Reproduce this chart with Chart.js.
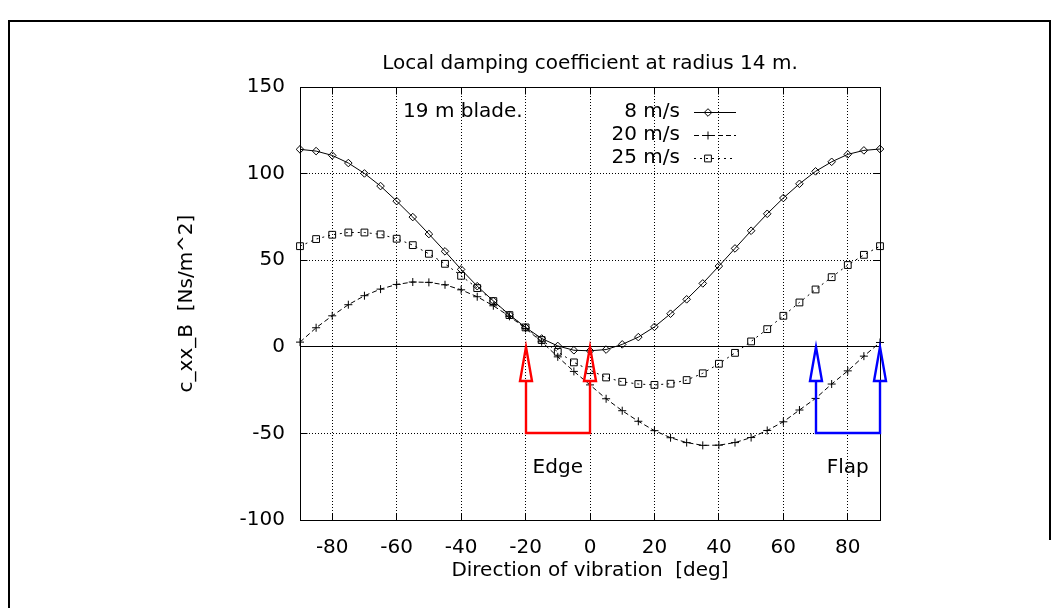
<!DOCTYPE html>
<html>
<head>
<meta charset="utf-8">
<script src="https://cdn.jsdelivr.net/npm/chart.js@4.4.0/dist/chart.umd.min.js"></script>
<style>
  html, body { margin: 0; padding: 0; background: #ffffff; }
  canvas { display: block; }
</style>
</head>
<body>
<canvas id="chart" width="1058" height="608" style="width:1058px;height:608px"></canvas>
<script>
// ---------- data ----------
const angles = [-90,-85,-80,-75,-70,-65,-60,-55,-50,-45,-40,-35,-30,-25,-20,-15,-10,-5,0,5,10,15,20,25,30,35,40,45,50,55,60,65,70,75,80,85,90];
const damping8 = [114.0,113.0,110.5,106.1,100.1,92.8,84.1,74.9,65.1,55.1,44.7,35.0,26.5,18.5,11.2,4.8,0.5,-2.0,-2.3,-1.6,1.4,5.6,11.5,19.1,27.4,36.6,46.6,56.8,67.0,76.8,85.9,94.1,101.3,106.8,111.1,113.4,114.2];
const damping20 = [2.7,11.0,17.9,24.3,29.5,33.3,36.0,37.4,37.2,35.8,32.9,28.9,23.7,17.6,10.6,2.9,-5.8,-14.2,-22.0,-30.0,-36.9,-43.0,-48.4,-52.5,-55.3,-56.9,-56.8,-55.3,-52.4,-48.3,-43.3,-36.5,-29.8,-21.5,-13.9,-5.4,2.5];
const damping25 = [58.1,62.2,64.7,66.0,66.0,64.9,62.4,58.7,53.7,47.9,41.0,33.9,26.4,18.3,11.2,3.9,-2.9,-9.0,-13.5,-17.7,-20.2,-21.5,-22.0,-21.3,-19.2,-15.3,-9.8,-3.5,3.1,10.2,17.9,25.6,33.1,40.2,47.2,53.1,58.1];
const seriesLabels = ['8 m/s', '20 m/s', '25 m/s'];
const xTicks = [-80,-60,-40,-20,0,20,40,60,80];
const yTicks = [-100,-50,0,50,100,150];
const edgeArrowX = [-20, 0];
const flapArrowX = [70, 90];
const arrowFrom = -50;
const arrowTo = 0;
const noteTexts = ['19 m blade.', 'Edge', 'Flap'];

// ---------- style ----------
const FONT = "'DejaVu Sans', 'Liberation Sans', sans-serif";
const toPoints = vals => angles.map((a, i) => ({ x: a, y: vals[i] }));

const overlay = {
  id: 'overlay',
  beforeDatasetsDraw(chart) {
    const { ctx, chartArea: a, scales: { y } } = chart;
    const al = p => Math.round(p - 0.5) + 0.5;
    ctx.save();
    ctx.strokeStyle = '#000'; ctx.lineWidth = 1; ctx.setLineDash([]);
    const yz = al(y.getPixelForValue(0));
    ctx.beginPath(); ctx.moveTo(a.left, yz); ctx.lineTo(a.right, yz); ctx.stroke();
    ctx.restore();
  },
  afterDatasetsDraw(chart, args, opts) {
    const { ctx, chartArea: a, scales: { x, y } } = chart;
    const al = p => Math.round(p - 0.5) + 0.5;
    ctx.save();
    // plot border
    ctx.strokeStyle = '#000'; ctx.lineWidth = 1; ctx.setLineDash([]);
    const L = al(a.left), R = al(a.right), T = al(a.top), B = al(a.bottom);
    ctx.strokeRect(L, T, R - L, B - T);
    // inward ticks (mirrored)
    const tl = 7;
    ctx.beginPath();
    xTicks.forEach(v => { const p = al(x.getPixelForValue(v)); ctx.moveTo(p, B); ctx.lineTo(p, B - tl); ctx.moveTo(p, T); ctx.lineTo(p, T + tl); });
    yTicks.forEach(v => { const p = al(y.getPixelForValue(v)); ctx.moveTo(L, p); ctx.lineTo(L + tl, p); ctx.moveTo(R, p); ctx.lineTo(R - tl, p); });
    ctx.stroke();

    // arrows
    opts.arrows.forEach(g => {
      const xs = g.xs.map(v => Math.round(x.getPixelForValue(v)));
      const yb = Math.round(y.getPixelForValue(g.from));
      const yt = Math.round(y.getPixelForValue(g.to));
      const hl = 34, hw = 6;
      ctx.strokeStyle = g.color; ctx.lineWidth = 2.4; ctx.lineJoin = 'miter'; ctx.setLineDash([]);
      ctx.beginPath();
      ctx.moveTo(xs[0], yt + hl); ctx.lineTo(xs[0], yb); ctx.lineTo(xs[1], yb); ctx.lineTo(xs[1], yt + hl);
      ctx.stroke();
      xs.forEach(px => {
        ctx.beginPath();
        ctx.moveTo(px, yt); ctx.lineTo(px - hw, yt + hl); ctx.lineTo(px + hw, yt + hl); ctx.closePath();
        ctx.stroke();
      });
    });

    // text notes
    ctx.fillStyle = '#000';
    ctx.font = '20px ' + FONT;
    ctx.textBaseline = 'middle';
    opts.notes.forEach(n => {
      ctx.textAlign = n.align;
      ctx.fillText(n.text, x.getPixelForValue(n.x), y.getPixelForValue(n.y));
    });

    // legend (gnuplot style: text right-aligned, then sample)
    chart.data.datasets.forEach((ds, i) => {
      const yy = a.top + 25 + i * 23;
      ctx.fillStyle = '#000';
      ctx.textAlign = 'right';
      ctx.fillText(ds.label, a.left + 380, yy);
      const ly = Math.round(yy) + 0.5;
      ctx.strokeStyle = '#000'; ctx.lineWidth = 1;
      ctx.setLineDash(ds.borderDash || []);
      ctx.beginPath(); ctx.moveTo(a.left + 394, ly); ctx.lineTo(a.left + 436, ly); ctx.stroke();
      ctx.setLineDash([]);
      ctx.fillStyle = 'rgba(0,0,0,0)';
      if (Chart.helpers && Chart.helpers.drawPoint) {
        Chart.helpers.drawPoint(ctx, { pointStyle: ds.pointStyle, radius: ds.pointRadius, borderWidth: 1, rotation: 0 }, a.left + 408, ly);
      }
    });
    ctx.restore();
  },
  afterDraw(chart) {
    const { ctx } = chart;
    ctx.save();
    ctx.strokeStyle = '#000'; ctx.lineWidth = 2; ctx.setLineDash([]);
    ctx.beginPath();
    ctx.moveTo(9, 608); ctx.lineTo(9, 21); ctx.lineTo(1050, 21); ctx.lineTo(1050, 540);
    ctx.stroke();
    ctx.restore();
  }
};

const common = { borderColor: '#000', borderWidth: 1, pointBorderColor: '#000', pointBackgroundColor: 'rgba(0,0,0,0)', pointBorderWidth: 1, showLine: true, tension: 0, clip: false, pointHoverRadius: 4 };

new Chart(document.getElementById('chart'), {
  type: 'scatter',
  data: {
    datasets: [
      Object.assign({}, common, { label: seriesLabels[0], data: toPoints(damping8), pointStyle: 'rectRot', pointRadius: 3.8, borderDash: [] }),
      Object.assign({}, common, { label: seriesLabels[1], data: toPoints(damping20), pointStyle: 'cross', pointRadius: 4, borderDash: [5, 3] }),
      Object.assign({}, common, { label: seriesLabels[2], data: toPoints(damping25), pointStyle: 'rect', pointRadius: 4.8, borderDash: [2, 4] })
    ]
  },
  options: {
    responsive: false,
    animation: false,
    devicePixelRatio: 1,
    layout: { padding: { left: 171, right: 178, top: 0, bottom: 21 } },
    plugins: {
      legend: { display: false },
      tooltip: { enabled: false },
      title: {
        display: true, text: 'Local damping coefficient at radius 14 m.', fullSize: false,
        color: '#000', font: { family: FONT, size: 20, weight: 'normal' },
        padding: { top: 52, bottom: 11 }
      },
      overlay: {
        arrows: [
          { xs: edgeArrowX, from: arrowFrom, to: arrowTo, color: '#ff0000' },
          { xs: flapArrowX, from: arrowFrom, to: arrowTo, color: '#0000ff' }
        ],
        notes: [
          { text: noteTexts[0], x: -58, y: 135.5, align: 'left' },
          { text: noteTexts[1], x: -10, y: -70, align: 'center' },
          { text: noteTexts[2], x: 80, y: -70, align: 'center' }
        ]
      }
    },
    scales: {
      x: {
        type: 'linear', position: 'bottom', min: -90, max: 90,
        afterBuildTicks: s => { s.ticks = xTicks.map(v => ({ value: v })); },
        afterFit: s => { s.height = 67; },
        ticks: { stepSize: 20, padding: 16, color: '#000', font: { family: FONT, size: 20 }, maxRotation: 0, autoSkip: false },
        grid: { color: '#000', lineWidth: 1, drawTicks: false },
        border: { display: false, dash: [1, 2] },
        title: { display: true, text: 'Direction of vibration  [deg]', color: '#000', font: { family: FONT, size: 20 }, padding: { top: 4, bottom: 4 } }
      },
      y: {
        type: 'linear', position: 'left', min: -100, max: 150,
        afterBuildTicks: s => { s.ticks = yTicks.map(v => ({ value: v })); },
        afterFit: s => { s.width = 129; },
        ticks: { stepSize: 50, padding: 15, color: '#000', font: { family: FONT, size: 20 } },
        grid: { color: '#000', lineWidth: 1, drawTicks: false },
        border: { display: false, dash: [1, 2] },
        title: { display: true, text: 'c_xx_B  [Ns/m^2]', color: '#000', font: { family: FONT, size: 20 }, padding: { top: 4, bottom: 4 } }
      }
    }
  },
  plugins: [overlay]
});
</script>
</body>
</html>
